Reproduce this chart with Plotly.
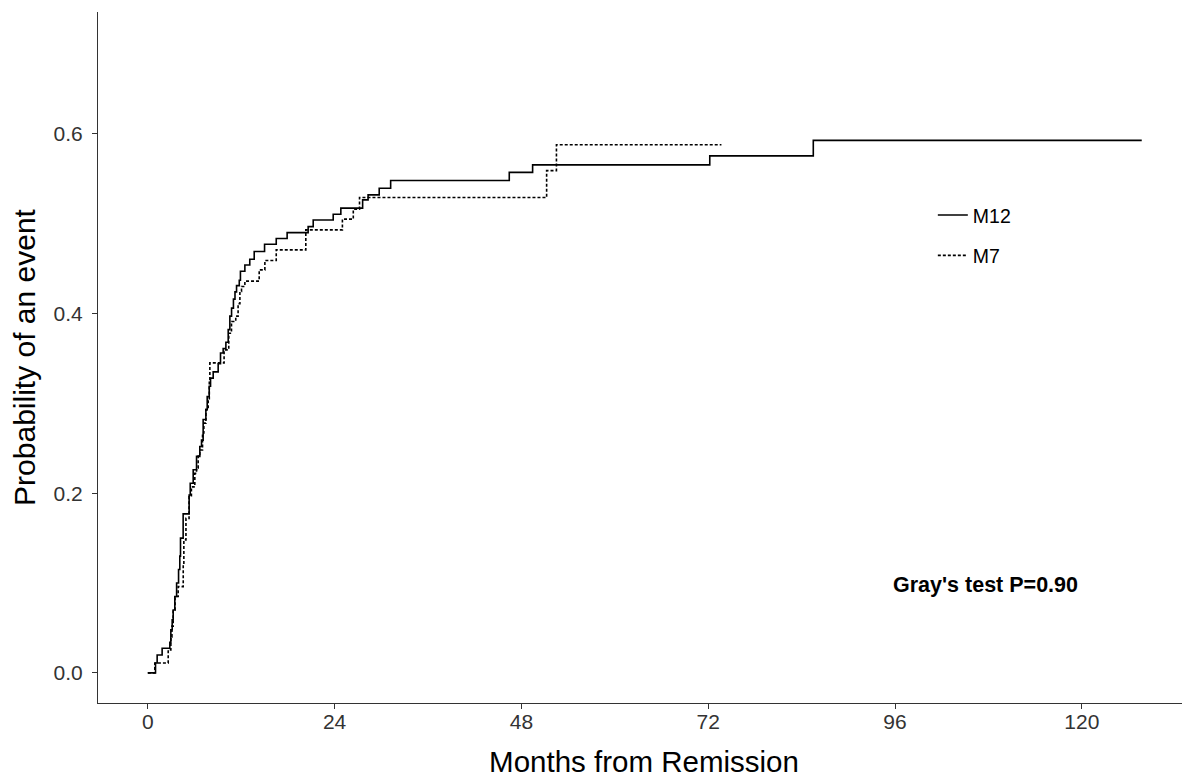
import plotly.graph_objects as go

# ---- data (cumulative incidence step curves) ----
m12_time = [0, 0.99, 1.2, 1.84, 2.83, 2.96, 3.13, 3.26, 3.47, 3.7, 3.95, 4.11, 4.2, 4.54,
            5.31, 5.45, 5.83, 6.26, 6.68, 6.9, 7.11, 7.46, 7.63, 7.89, 8.06, 8.4, 9.04,
            9.34, 9.68, 10.03, 10.33, 10.54, 10.76, 11.0, 11.2, 11.4, 11.75, 11.9, 12.47,
            13.1, 13.67, 15.0, 16.5, 17.9, 20.6, 21.25, 23.82, 24.8, 27.6, 28.3, 29.73,
            31.2, 46.44, 49.44, 72.2, 85.5, 127.7]
m12_prob = [0, 0.011, 0.020, 0.0275, 0.034, 0.048, 0.059, 0.070, 0.085, 0.100, 0.115, 0.130,
            0.150, 0.177, 0.198, 0.211, 0.226, 0.241, 0.252, 0.259, 0.282, 0.293, 0.3075,
            0.319, 0.328, 0.335, 0.344, 0.356, 0.361, 0.368, 0.382, 0.397, 0.406, 0.416,
            0.424, 0.431, 0.437, 0.447, 0.454, 0.4604, 0.469, 0.477, 0.4835, 0.490, 0.4967,
            0.504, 0.5105, 0.5172, 0.5264, 0.532, 0.5394, 0.548, 0.557, 0.5654, 0.5754,
            0.5926, 0.5926]

m7_time = [0, 0.9, 2.62, 2.96, 3.1, 3.26, 3.5, 3.9, 4.55, 4.63, 4.9, 5.3, 5.6, 6.04, 6.26,
           6.47, 6.68, 7.03, 7.2, 7.46, 7.76, 7.9, 7.97, 9.8, 10.4, 10.75, 11.3, 11.6, 11.83,
           12.04, 12.47, 14.31, 15.04, 16.5, 20.3, 25.0, 26.4, 27.2, 51.24, 52.5, 73.7]
m7_prob = [0, 0.011, 0.0256, 0.040, 0.052, 0.070, 0.085, 0.096, 0.120, 0.148, 0.172, 0.196,
           0.207, 0.222, 0.228, 0.243, 0.248, 0.267, 0.278, 0.293, 0.304, 0.326, 0.345,
           0.3595, 0.378, 0.391, 0.397, 0.411, 0.4245, 0.430, 0.436, 0.4485, 0.459, 0.4708,
           0.493, 0.505, 0.516, 0.529, 0.559, 0.5877, 0.5877]

x_ticks = [0, 24, 48, 72, 96, 120]
y_ticks = [0.0, 0.2, 0.4, 0.6]
y_tick_labels = ["0.0", "0.2", "0.4", "0.6"]

annot_text = "Gray's test P=0.90"
annot_x, annot_y = 107.6, 0.098

FONT = "Liberation Sans, Arial, sans-serif"

fig = go.Figure()
fig.add_trace(go.Scatter(x=m12_time, y=m12_prob, mode="lines", name="M12",
                         line=dict(color="black", width=1.6, shape="hv"),
                         legendgroup="a"))
fig.add_trace(go.Scatter(x=m7_time, y=m7_prob, mode="lines", name="M7",
                         line=dict(color="black", width=1.6, shape="hv", dash="3px,2px"),
                         legendgroup="b"))

fig.add_annotation(x=annot_x, y=annot_y, xref="x", yref="y", text="<b>" + annot_text + "</b>",
                   showarrow=False, font=dict(family=FONT, size=21.5, color="black"))

fig.update_layout(
    width=1182, height=770,
    margin=dict(l=90, r=0, t=4, b=75),
    paper_bgcolor="white", plot_bgcolor="white",
    font=dict(family=FONT, color="black"),
    legend=dict(x=0.7645, y=0.734, xanchor="left", yanchor="top",
                font=dict(family=FONT, size=19.5, color="black"),
                bgcolor="rgba(0,0,0,0)", tracegroupgap=12, traceorder="grouped",
                itemwidth=30),
    xaxis=dict(range=[-6.4, 133.9], tickvals=x_ticks, showgrid=False, zeroline=False,
               showline=True, linecolor="#333333", linewidth=1.2,
               ticks="outside", ticklen=5, tickcolor="#333333", tickwidth=1.1,
               ticklabelstandoff=-5,
               tickfont=dict(family=FONT, size=21, color="#333333"),
               title=dict(text="Months from Remission", font=dict(family=FONT, size=29.5, color="black"),
                          standoff=21)),
    yaxis=dict(range=[-0.0335, 0.7355], tickvals=y_ticks, ticktext=y_tick_labels,
               showgrid=False, zeroline=False,
               showline=True, linecolor="#333333", linewidth=1.2,
               ticks="outside", ticklen=5, tickcolor="#333333", tickwidth=1.1,
               ticklabelstandoff=5,
               tickfont=dict(family=FONT, size=21, color="#333333"),
               title=dict(text="Probability of an event", font=dict(family=FONT, size=30, color="black"),
                          standoff=12)),
)

fig.write_html("out.html")
